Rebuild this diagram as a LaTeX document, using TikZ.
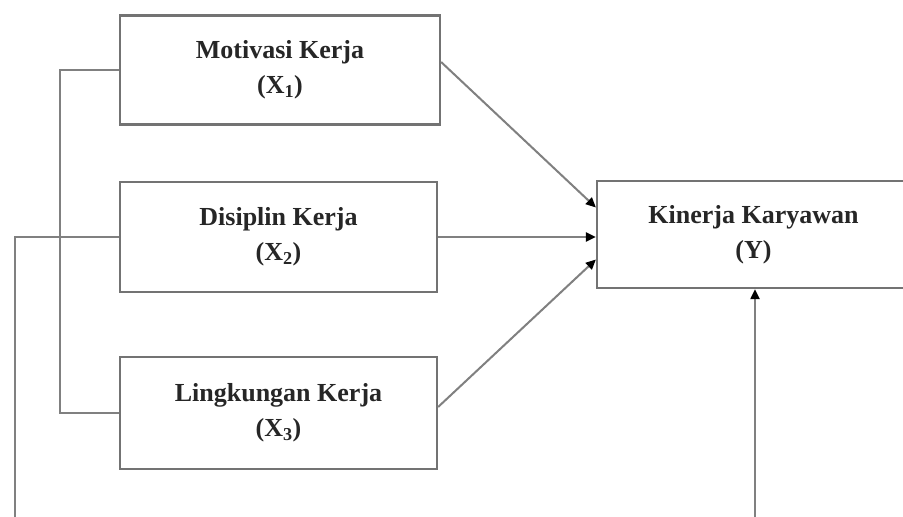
\documentclass[tikz,border=0pt]{standalone}
\usepackage{fontspec}
\setmainfont{Liberation Serif}
\usetikzlibrary{arrows.meta,calc}
\begin{document}
\begin{tikzpicture}[x=1pt,y=-1pt,
  box/.style={draw=black!55,line width=2.2pt,rectangle,inner sep=0pt,align=center,
    font=\fontsize{26}{35}\selectfont\bfseries,text=black!85},
  link/.style={draw=black!50,line width=2pt},
  arr/.style={link,-{Triangle[length=10pt,width=9pt,color=black]}}]
\useasboundingbox[fill=white] (0,0) rectangle (903,517);
\node[box,minimum width=320,minimum height=109] (X1) at (280,70) {Motivasi Kerja\\(X\textsubscript{1})};
\node[box,minimum width=317,minimum height=110] (X2) at (278.5,237) {Disiplin Kerja\\(X\textsubscript{2})};
\node[box,minimum width=317,minimum height=112] (X3) at (278.5,413) {Lingkungan Kerja\\(X\textsubscript{3})};
\node[box,minimum width=313,minimum height=107] (Y) at (753.5,234.5) {Kinerja Karyawan\\(Y)};
\coordinate (b1) at (60,0);
\coordinate (b2) at (15,0);
\coordinate (e2) at (15,525);
\coordinate (e3) at (755,525);
\draw[link] (X1.west) -- (X1.west -| b1) -- (X3.west -| b1) -- (X3.west);
\draw[link] (X2.west) -- (X2.west -| b2) -- (e2);
\draw[arr] (e3) -- (e3 |- Y.south);
\draw[arr] ($(X1.east)+(0,-8)$) -- ($(Y.west)+(0,-27)$);
\draw[arr] (X2.east) -- (X2.east -| Y.west);
\draw[arr] ($(X3.east)+(0,-6)$) -- ($(Y.west)+(0,25)$);
\end{tikzpicture}
\end{document}
